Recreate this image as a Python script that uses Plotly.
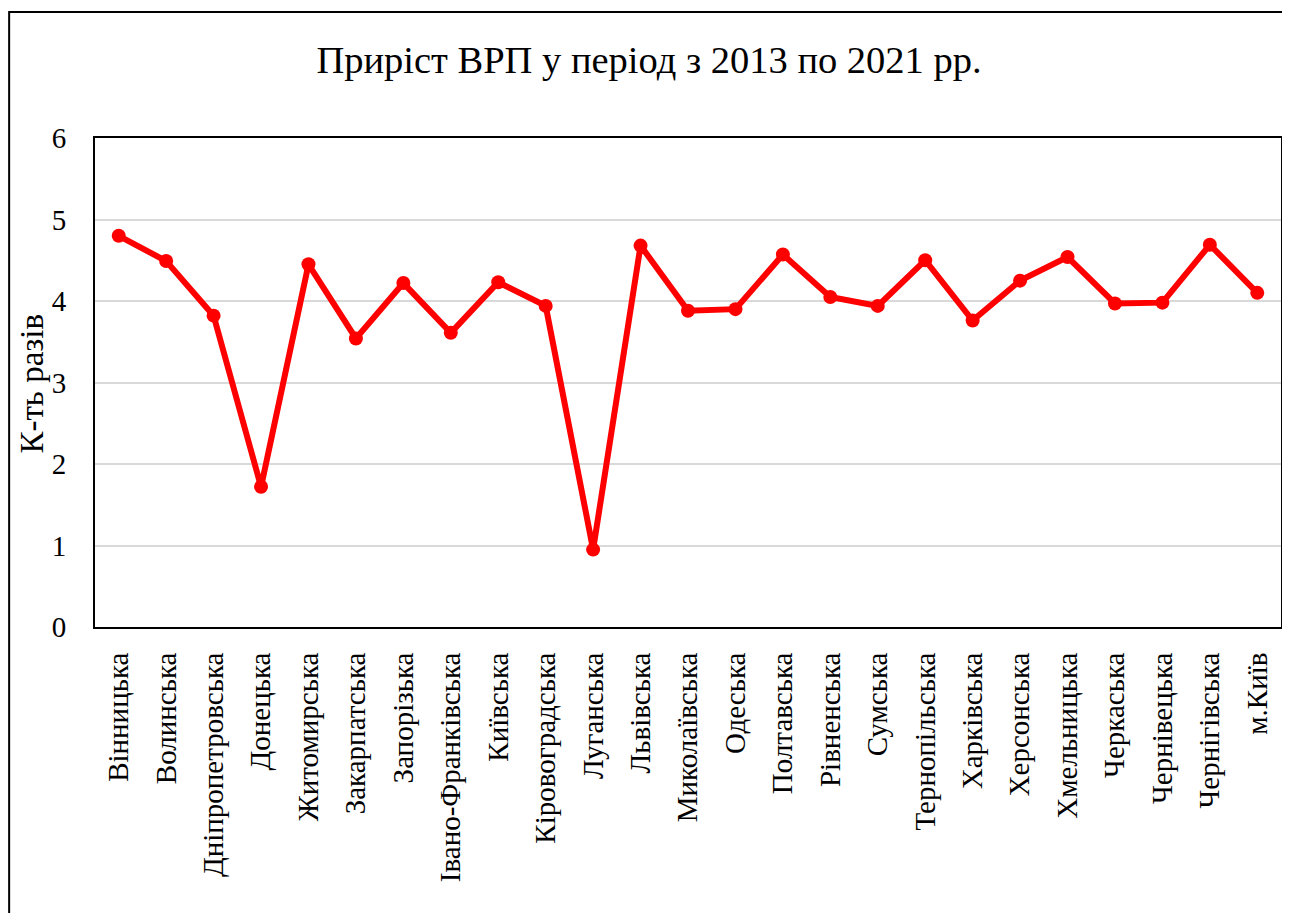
import plotly.graph_objects as go

FONT = "Liberation Serif"

regions = [
    "Вінницька", "Волинська", "Дніпропетровська", "Донецька", "Житомирська",
    "Закарпатська", "Запорізька", "Івано-Франківська", "Київська", "Кіровоградська",
    "Луганська", "Львівська", "Миколаївська", "Одеська", "Полтавська",
    "Рівненська", "Сумська", "Тернопільська", "Харківська", "Херсонська",
    "Хмельницька", "Черкаська", "Чернівецька", "Чернігівська", "м.Київ",
]
growth = [
    4.80, 4.49, 3.82, 1.72, 4.45,
    3.54, 4.22, 3.61, 4.23, 3.94,
    0.95, 4.68, 3.88, 3.90, 4.57,
    4.05, 3.94, 4.50, 3.76, 4.25,
    4.54, 3.97, 3.98, 4.69, 4.10,
]
y_ticks = [0, 1, 2, 3, 4, 5, 6]

# page body has an 8px margin, so the figure is a bit smaller than the window
W, H = 1282, 905
L, R, T, B = 87, 7, 130, 286
PW, PH = W - L - R, H - T - B

fig = go.Figure(go.Scatter(
    x=regions, y=growth, mode="lines+markers",
    line=dict(color="#ff0000", width=6),
    marker=dict(color="#ff0000", size=14),
))

fig.update_layout(
    width=W, height=H,
    paper_bgcolor="white", plot_bgcolor="white",
    margin=dict(l=L, r=R, t=T, b=B),
    showlegend=False,
    font=dict(family=FONT, color="black", size=24),
    title=dict(text="Приріст ВРП у період з 2013 по 2021 рр.", x=0.5, xanchor="center",
               y=1 - 52 / H, yanchor="middle", font=dict(family=FONT, size=38.5, color="black")),
)
fig.update_xaxes(
    range=[-0.5, len(regions) - 0.5], tickangle=-90, showgrid=False,
    showline=True, linecolor="black", linewidth=2, mirror=True, ticks="",
    tickfont=dict(family=FONT, size=29, color="black"), ticklabelstandoff=12,
)
fig.update_yaxes(
    range=[0, 6], tickvals=y_ticks, showgrid=True, gridcolor="#d9d9d9", gridwidth=2,
    showline=True, linecolor="black", linewidth=2, mirror=True, ticks="",
    tickfont=dict(family=FONT, size=29, color="black"), ticklabelstandoff=21,
    zeroline=False,
)
fig.add_annotation(text="К-ть разів", xref="paper", yref="paper",
                   x=(24 - L) / PW, y=0.498, xanchor="center", yanchor="middle",
                   textangle=-90, showarrow=False,
                   font=dict(family=FONT, size=33, color="black"))
# outer chart frame
fig.add_shape(type="rect", xref="paper", yref="paper",
              x0=-(L - 1) / PW, x1=1 + 40 / PW, y0=-(B + 20) / PH, y1=1 + (T - 4) / PH,
              line=dict(color="black", width=2), fillcolor="rgba(0,0,0,0)", layer="below")

fig.write_html("out.html")
